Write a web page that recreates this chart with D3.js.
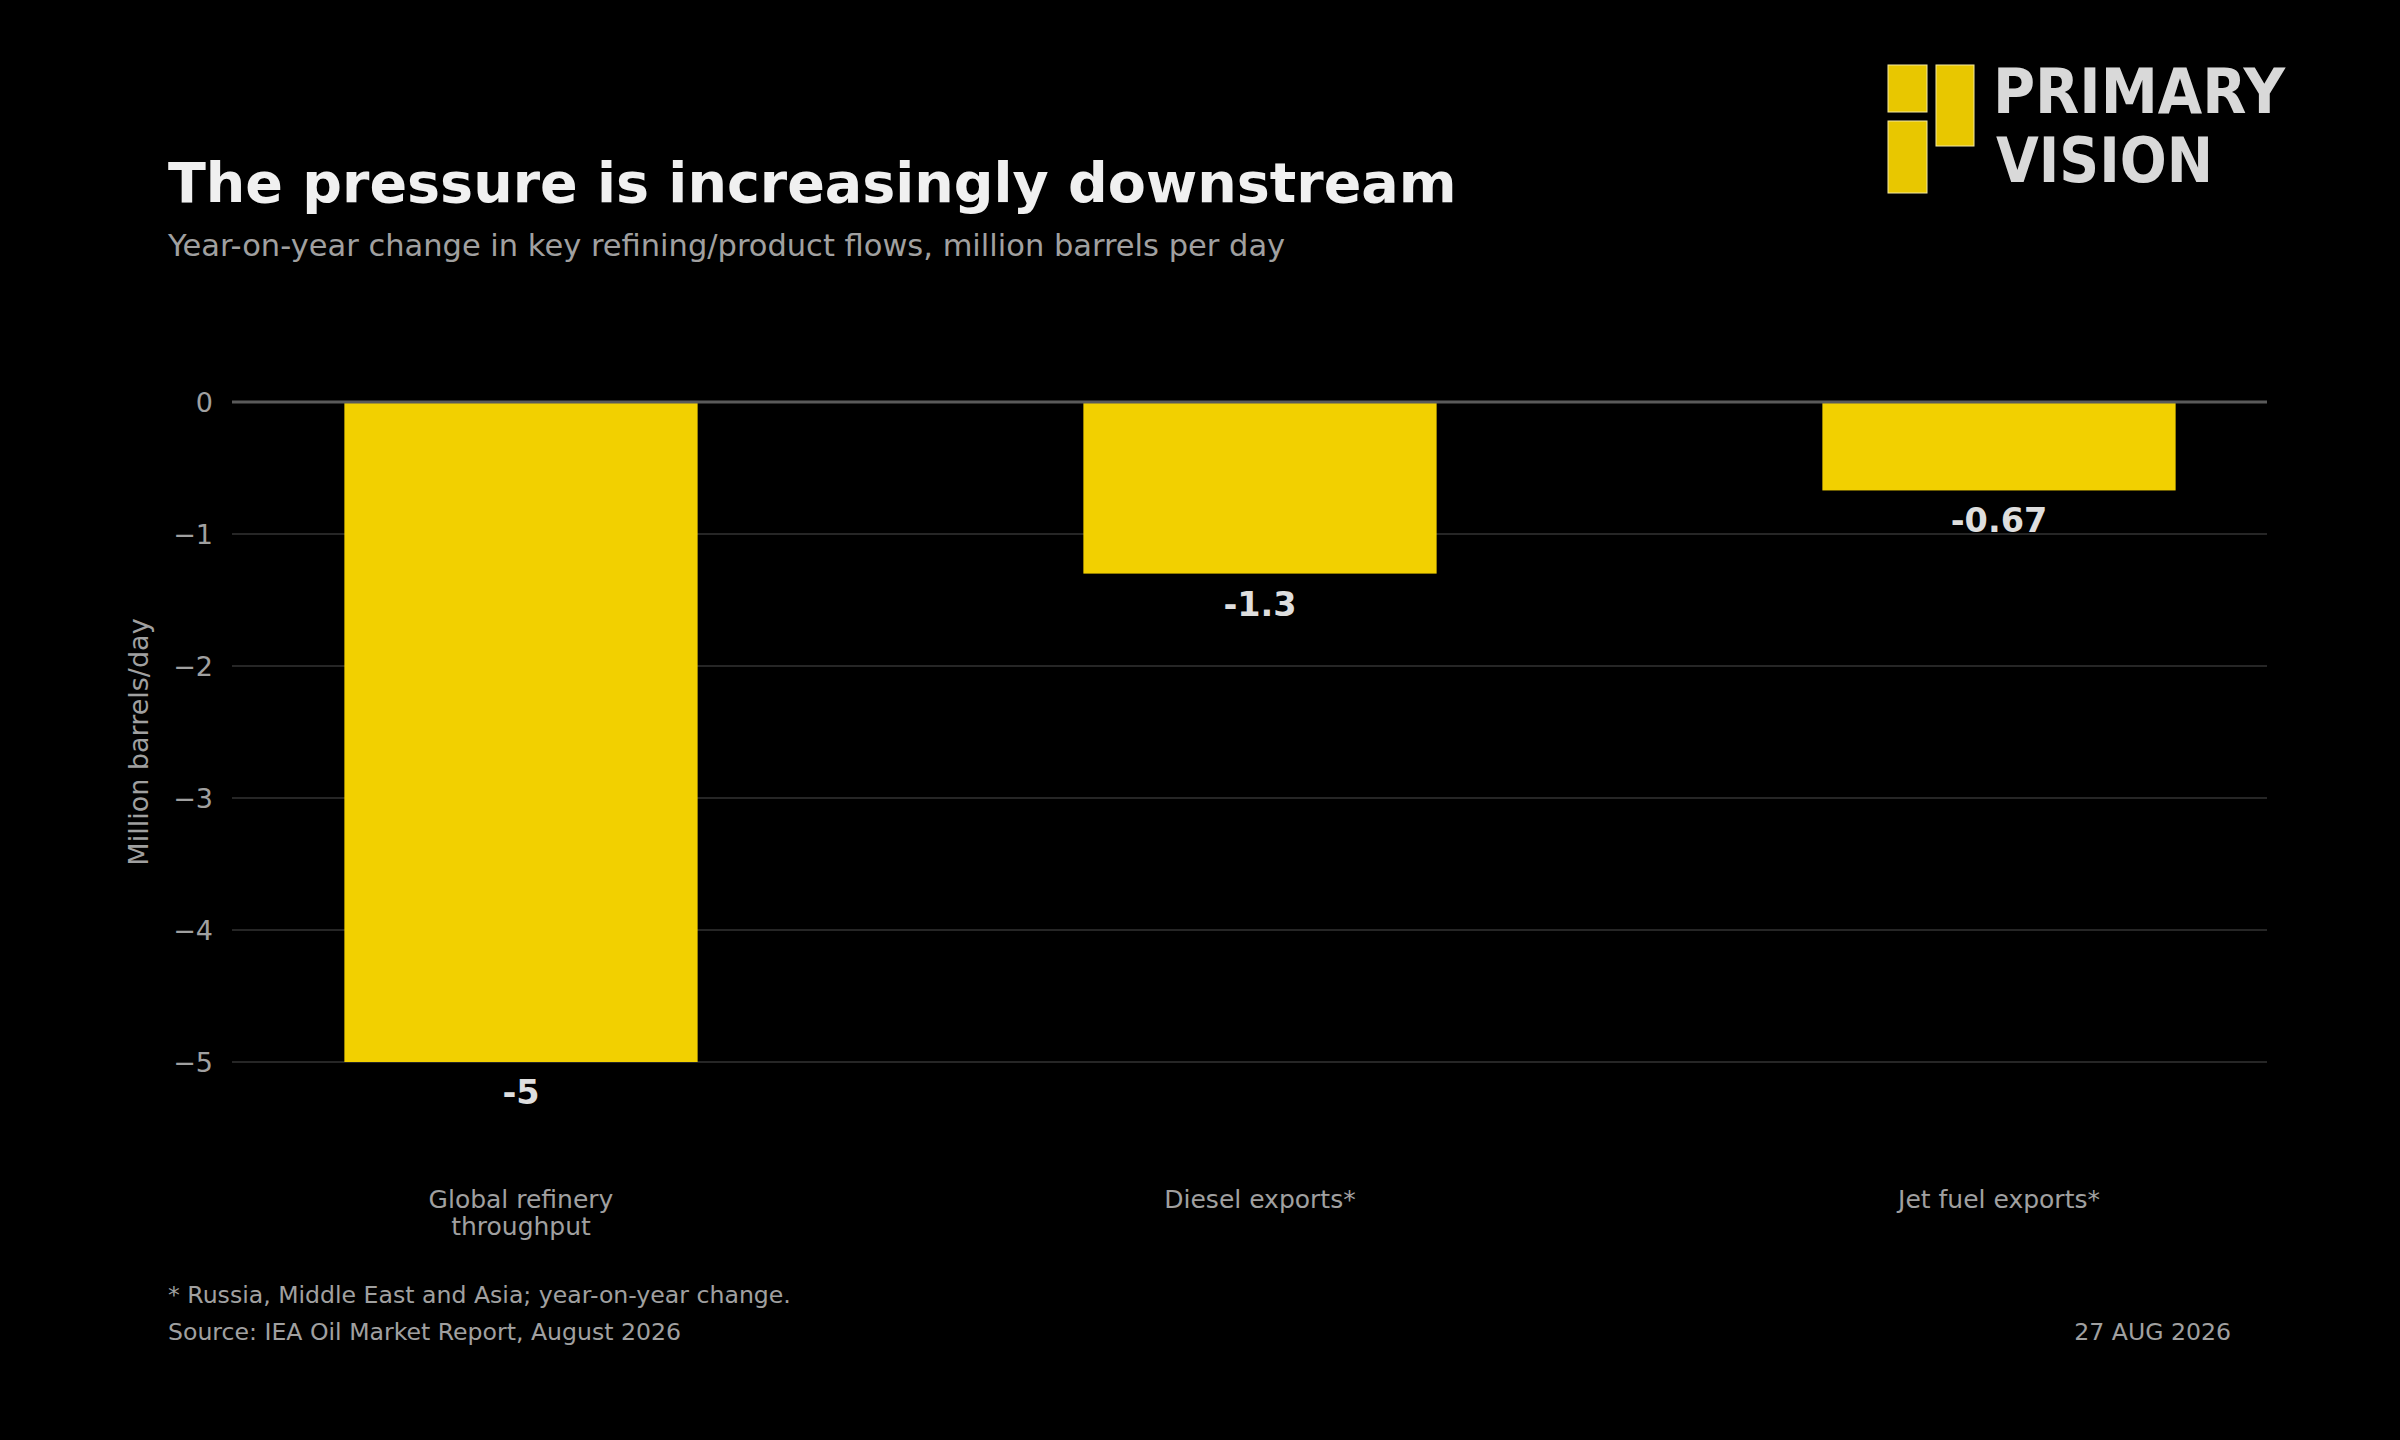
<!DOCTYPE html>
<html><head><meta charset="utf-8">
<script src="https://cdn.jsdelivr.net/npm/d3@7"></script>
<style>html,body{margin:0;padding:0;background:#000;}svg{display:block;}</style>
</head><body>
<svg id="chart" width="2400" height="1440"></svg>
<script>
const categories = [["Global refinery","throughput"],["Diesel exports*"],["Jet fuel exports*"]];
const values = [-5, -1.3, -0.67];
const valueLabels = ["-5", "-1.3", "-0.67"];
const yTicks = [0, -1, -2, -3, -4, -5];

const svg = d3.select("#chart");
const font = "'DejaVu Sans', sans-serif";
svg.append("rect").attr("width",2400).attr("height",1440).attr("fill","#000");

const plotL = 232, plotR = 2267;
const y = d3.scaleLinear().domain([0, -5]).range([402, 1062]);
const keys = categories.map((c,i)=>String(i));
const x = d3.scaleBand().domain(keys).range([151.5, 2368.5]).paddingInner(0.522).paddingOuter(0.261);

// gridlines
const g = svg.append("g");
g.selectAll("line.grid").data(yTicks.filter(t=>t!==0)).join("line")
  .attr("x1",plotL).attr("x2",plotR)
  .attr("y1",d=>y(d)).attr("y2",d=>y(d))
  .attr("stroke","#262626").attr("stroke-width",2);

// y axis labels via d3 axis
const yAxis = d3.axisLeft(y).tickValues(yTicks).tickSize(0).tickPadding(0)
  .tickFormat(d=> d===0 ? "0" : "\u2212" + Math.abs(d));
const ya = svg.append("g").attr("transform",`translate(${plotL-19},0)`).call(yAxis);
ya.select(".domain").remove();
ya.selectAll("text").attr("fill","#a0a0a0").attr("font-size",27).attr("font-family",font).attr("dy","0.36em");

// bars
svg.append("g").selectAll("rect").data(values).join("rect")
  .attr("x",(d,i)=>x(keys[i])).attr("width",x.bandwidth())
  .attr("y",y(0)).attr("height",d=>y(d)-y(0))
  .attr("fill","#f2d000");

// zero line
svg.append("line").attr("x1",plotL).attr("x2",plotR).attr("y1",y(0)).attr("y2",y(0))
  .attr("stroke","#5a5a5a").attr("stroke-width",3);

// value labels
svg.append("g").selectAll("text").data(values).join("text")
  .attr("x",(d,i)=>x(keys[i])+x.bandwidth()/2).attr("y",d=>y(d)+42)
  .attr("text-anchor","middle").attr("font-family",font).attr("font-weight","bold")
  .attr("font-size",33.5).attr("fill","#dedede").text((d,i)=>valueLabels[i]);

// category labels
const cl = svg.append("g").selectAll("text").data(categories).join("text")
  .attr("x",(d,i)=>x(keys[i])+x.bandwidth()/2).attr("y",1208)
  .attr("text-anchor","middle").attr("font-family",font).attr("font-size",25).attr("fill","#a0a0a0");
cl.each(function(d){
  const t = d3.select(this);
  d.forEach((line,j)=>{
    t.append("tspan").attr("x",t.attr("x")).attr("dy", j===0?0:27).text(line);
  });
});

// y axis title
svg.append("text").attr("transform","translate(148,742) rotate(-90)")
  .attr("text-anchor","middle").attr("font-family",font).attr("font-size",27)
  .attr("fill","#a0a0a0").text("Million barrels/day");

// title & subtitle
svg.append("text").attr("x",168).attr("y",202).attr("font-family",font).attr("font-weight","bold")
  .attr("font-size",55.5).attr("fill","#f0f0f0").text("The pressure is increasingly downstream");
svg.append("text").attr("x",168).attr("y",256).attr("font-family",font)
  .attr("font-size",30.5).attr("fill","#a0a0a0").text("Year-on-year change in key refining/product flows, million barrels per day");

// footer
svg.append("text").attr("x",168).attr("y",1303).attr("font-family",font).attr("font-size",23.6)
  .attr("fill","#a0a0a0").text("* Russia, Middle East and Asia; year-on-year change.");
svg.append("text").attr("x",168).attr("y",1340).attr("font-family",font).attr("font-size",23.6)
  .attr("fill","#a0a0a0").text("Source: IEA Oil Market Report, August 2026");
svg.append("text").attr("x",2231).attr("y",1340).attr("text-anchor","end").attr("font-family",font).attr("font-size",23.6)
  .attr("fill","#a0a0a0").text("27 AUG 2026");

// logo
const logo = svg.append("g");
[[1888,65,39,47],[1888,121,39,72],[1936,65,38,81]].forEach(r=>{
  logo.append("rect").attr("x",r[0]).attr("y",r[1]).attr("width",r[2]).attr("height",r[3])
    .attr("fill","#e8c700").attr("stroke","#f5e9a0").attr("stroke-width",1);
});
logo.append("text").attr("x",1993).attr("y",113).attr("font-family",font).attr("font-weight","bold").attr("font-size",62)
  .attr("fill","#d9d9d9").attr("textLength",292).attr("lengthAdjust","spacingAndGlyphs").text("PRIMARY");
logo.append("text").attr("x",1996).attr("y",182).attr("font-family",font).attr("font-weight","bold").attr("font-size",62)
  .attr("fill","#d9d9d9").attr("textLength",217).attr("lengthAdjust","spacingAndGlyphs").text("VISION");
</script>
</body></html>
